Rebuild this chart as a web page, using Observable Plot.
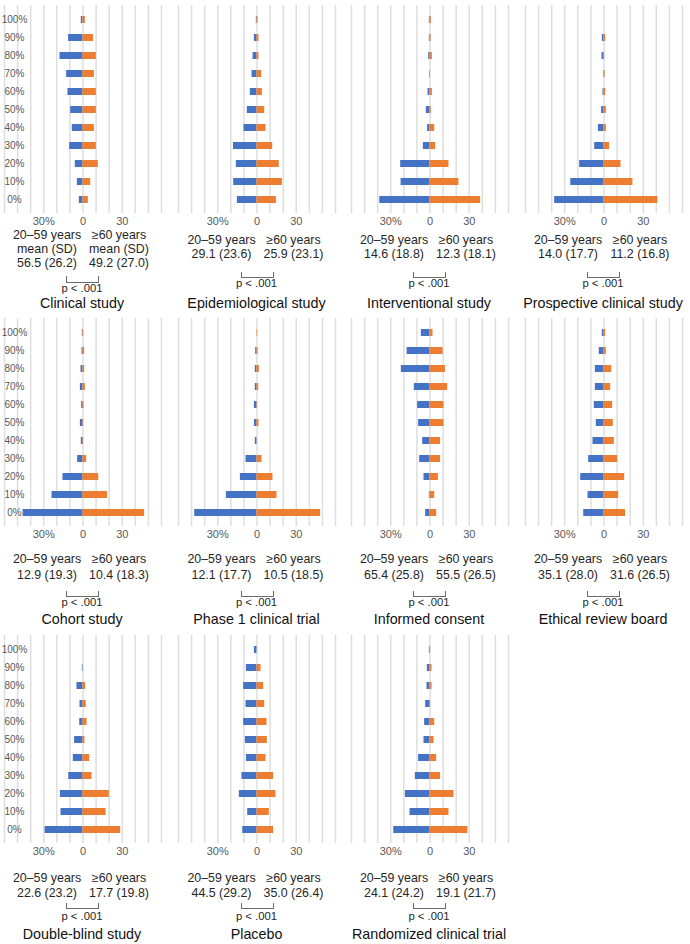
<!DOCTYPE html>
<html>
<head>
<meta charset="utf-8">
<script src="https://cdn.jsdelivr.net/npm/d3@7"></script>
<script src="https://cdn.jsdelivr.net/npm/@observablehq/plot@0.6"></script>
<style>
  html, body { margin: 0; padding: 0; background: #fff; }
  #chart { position: relative; width: 690px; height: 944px; overflow: hidden; font-family: "Liberation Sans", Arial, sans-serif; }
  .panel-svg { position: absolute; }
  .lbl { position: absolute; transform: translate(-50%, -50%); white-space: nowrap; line-height: 1; color: #262626; }
  .grp { font-size: 12.4px; }
  .pv { font-size: 11.3px; }
  .ttl { font-size: 14.3px; color: #111; }
  .bracket { position: absolute; border: 1px solid #6b6b6b; border-top: none; box-sizing: border-box; }
</style>
</head>
<body>
<div id="chart"></div>
<script>
// ---- data ----
const categories = ["100%","90%","80%","70%","60%","50%","40%","30%","20%","10%","0%"];
const studyTitles = ["Clinical study","Epidemiological study","Interventional study","Prospective clinical study",
  "Cohort study","Phase 1 clinical trial","Informed consent","Ethical review board",
  "Double-blind study","Placebo","Randomized clinical trial"];
const groupLabels = ["20–59 years", "≥60 years"];
const statLabel = "mean (SD)";
const youngShare = [
  [1.3, 11, 17.6, 12.5, 11.5, 9.4, 8.2, 10.2, 5.9, 4.3, 2.8],
  [0.5, 2, 3, 3.8, 5.1, 7.4, 9.9, 18, 15.8, 17.8, 15],
  [0.5, 0.5, 1, 0.3, 1.5, 2.8, 1.8, 5.1, 22.4, 22.1, 38.4],
  [0, 1.3, 1.5, 0.3, 0.8, 1.8, 4.3, 7.1, 18.6, 25.4, 37.7],
  [0.5, 0.8, 1.5, 2, 1, 2, 1.3, 4.1, 15.3, 23.7, 45.8],
  [0, 1, 1.3, 1.3, 2, 2, 1.3, 8.4, 12.7, 23.4, 47.6],
  [6.6, 17.5, 21.9, 12, 9.4, 8.7, 5.6, 7.9, 4.6, 0.5, 3.3],
  [1.3, 3.6, 6.6, 6.6, 7.4, 5.9, 8.4, 11.7, 17.8, 12.2, 15.5],
  [0, 0.5, 4.6, 2.3, 2.5, 6.4, 7.4, 10.9, 17.3, 16.8, 29],
  [2, 8.1, 10.2, 8.4, 10.2, 8.9, 8.1, 11.5, 13.5, 7.1, 10.9],
  [0.5, 2, 2.3, 3.3, 4.1, 4.6, 8.7, 11.2, 18.8, 15.3, 27.7]
];
const olderShare = [
  [1.8, 8, 10.2, 8.7, 10.2, 10.2, 8.7, 10.2, 11.7, 5.9, 4.1],
  [0.8, 1.5, 1.5, 3.6, 4.1, 5.9, 6.9, 12, 17, 19.4, 14.8],
  [1, 0.8, 1.8, 0.3, 1.8, 1, 3.6, 4.3, 14.5, 22.1, 38.7],
  [0, 1.3, 0.5, 0.8, 1.3, 1.8, 1.8, 4.3, 13, 22.1, 41.2],
  [0.5, 1.3, 1.3, 1.8, 0.8, 0.5, 0.5, 2.8, 12, 18.8, 47.1],
  [0.5, 0.8, 1.8, 1.3, 0.3, 1.5, 0, 3.8, 12.2, 15.3, 48.6],
  [2.3, 10, 11.8, 13.5, 10.7, 10.7, 8.1, 8.1, 6.4, 3.6, 5.1],
  [1.3, 1.8, 5.9, 5.1, 6.6, 7.1, 7.9, 10.4, 15.8, 11.2, 16.5],
  [0, 0, 2, 2.5, 3.1, 1.5, 5.1, 6.9, 20.1, 17.6, 28.8],
  [0, 3.1, 5.1, 5.9, 7.6, 7.9, 6.9, 12.7, 14.5, 9.4, 12.7],
  [0.5, 1.5, 1.5, 0.5, 3.6, 3.1, 5.1, 8.1, 18.3, 14.5, 29]
];
const youngStats = ["56.5 (26.2)","29.1 (23.6)","14.6 (18.8)","14.0 (17.7)","12.9 (19.3)","12.1 (17.7)",
  "65.4 (25.8)","35.1 (28.0)","22.6 (23.2)","44.5 (29.2)","24.1 (24.2)"];
const olderStats = ["49.2 (27.0)","25.9 (23.1)","12.3 (18.1)","11.2 (16.8)","10.4 (18.3)","10.5 (18.5)",
  "55.5 (26.5)","31.6 (26.5)","17.7 (19.8)","35.0 (26.4)","19.1 (21.7)"];
const pValues = ["p < .001","p < .001","p < .001","p < .001","p < .001","p < .001",
  "p < .001","p < .001","p < .001","p < .001","p < .001"];
const xTicks = [-30, 0, 30];
const xTickLabels = ["30%", "0", "30"];

// ---- layout ----
const colCenters = [82, 256.5, 429, 603];
const rowLayout = [
  {gridTop: 5,     L1: 239.5, L2: 254, brTop: 272, brBot: 277, p: 283.5, title: 303},
  {gridTop: 318,   L1: 559,   L2: 575, brTop: 591, brBot: 596, p: 602.5, title: 619},
  {gridTop: 634.5, L1: 878,   L2: 893, brTop: 903, brBot: 908, p: 916.5, title: 934}
];
const firstPanel = {L1: 235, L2: 249, L3: 263, brTop: 276, brBot: 282, p: 289};

const W = 170, mL = 6, mR = 7, mT = 2, H = 208, mB = 20;
const chart = document.getElementById("chart");
const tickLabelOf = new Map(xTicks.map((t, i) => [t, xTickLabels[i]]));
const gridValues = d3.range(-60, 61, 10);

function addLabel(text, x, y, cls) {
  const el = document.createElement("div");
  el.className = "lbl " + cls;
  el.textContent = text;
  el.style.left = x + "px";
  el.style.top = y + "px";
  chart.appendChild(el);
}
function addBracket(cx, top, bot) {
  const el = document.createElement("div");
  el.className = "bracket";
  el.style.left = (cx - 16) + "px";
  el.style.top = top + "px";
  el.style.width = "33px";
  el.style.height = (bot - top + 1) + "px";
  chart.appendChild(el);
}

studyTitles.forEach((title, i) => {
  const col = i % 4, row = Math.floor(i / 4);
  const cx = colCenters[col];
  const rl = rowLayout[row];
  const rows = categories.map((c, k) => ({cat: c, young: youngShare[i][k], older: olderShare[i][k]}));

  const marks = [
    Plot.ruleX(gridValues, {stroke: "#dedede", strokeWidth: 1.5}),
    Plot.barX(rows, {y: "cat", x1: d => -d.young, x2: () => 0, fill: "#4472C4"}),
    Plot.barX(rows, {y: "cat", x1: () => 0, x2: "older", fill: "#ED7D31"}),
    Plot.axisX({ticks: xTicks, tickFormat: d => tickLabelOf.get(d), tickSize: 0, tickPadding: 4,
      fontSize: 11, color: "#595959", label: null})
  ];
  if (col === 0) {
    marks.push(Plot.text(categories, {x: () => -60, y: d => d, dx: 10, text: d => d,
      fontSize: 10, fill: "#595959", textAnchor: "middle"}));
  }
  const svg = Plot.plot({
    width: W, height: mT + H + mB,
    marginLeft: mL, marginRight: mR, marginTop: mT, marginBottom: mB,
    style: {fontFamily: "'Liberation Sans', Arial, sans-serif", background: "transparent", overflow: "visible"},
    x: {domain: [-60, 60], label: null},
    y: {type: "band", domain: categories, paddingInner: 0.63, paddingOuter: 0.315, axis: null},
    marks
  });
  svg.classList.add("panel-svg");
  svg.style.left = (cx - mL - (W - mL - mR) / 2) + "px";
  svg.style.top = (rl.gridTop - mT) + "px";
  chart.appendChild(svg);

  const lx = cx - 35, rx = cx + 37;
  if (i === 0) {
    addLabel(groupLabels[0], lx, firstPanel.L1, "grp");
    addLabel(groupLabels[1], rx, firstPanel.L1, "grp");
    addLabel(statLabel, lx, firstPanel.L2, "grp");
    addLabel(statLabel, rx, firstPanel.L2, "grp");
    addLabel(youngStats[i], lx, firstPanel.L3, "grp");
    addLabel(olderStats[i], rx, firstPanel.L3, "grp");
    addBracket(cx, firstPanel.brTop, firstPanel.brBot);
    addLabel(pValues[i], cx, firstPanel.p, "pv");
  } else {
    addLabel(groupLabels[0], lx, rl.L1, "grp");
    addLabel(groupLabels[1], rx, rl.L1, "grp");
    addLabel(youngStats[i], lx, rl.L2, "grp");
    addLabel(olderStats[i], rx, rl.L2, "grp");
    addBracket(cx, rl.brTop, rl.brBot);
    addLabel(pValues[i], cx, rl.p, "pv");
  }
  addLabel(title, cx, rl.title, "ttl");
});
</script>
</body>
</html>
